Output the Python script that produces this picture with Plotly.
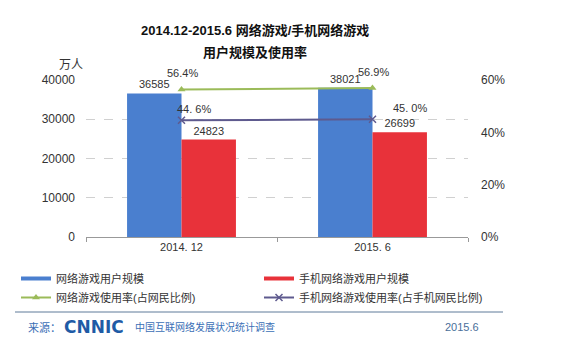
import plotly.graph_objects as go

categories = ["2014. 12", "2015. 6"]
pc_users = [36585, 38021]
mobile_users = [24823, 26699]
pc_rate = [0.564, 0.569]
mobile_rate = [0.446, 0.450]
pc_rate_labels = ["56.4%", "56.9%"]
mobile_rate_labels = ["44. 6%", "45. 0%"]
left_ticks = [0, 10000, 20000, 30000, 40000]
left_tick_labels = ["0", "10000", "20000", "30000", "40000"]
right_ticks = [0, 0.2, 0.4, 0.6]
right_tick_labels = ["0%", "20%", "40%", "60%"]

names = ["网络游戏用户规模", "手机网络游戏用户规模", "网络游戏使用率(占网民比例)", "手机网络游戏使用率(占手机网民比例)"]

FONT = "Liberation Sans, Noto Sans CJK SC, sans-serif"
BLUE = "#4a7fcf"
RED = "#e8323a"
GREEN = "#9bbb59"
PURPLE = "#5e5a8e"

fig = go.Figure()
fig.add_trace(go.Bar(x=categories, y=pc_users, marker_color=BLUE, marker_line_width=0,
                     text=[str(v) for v in pc_users], textposition="outside",
                     textfont=dict(size=11, color="#333"), cliponaxis=False, showlegend=False))
fig.add_trace(go.Bar(x=categories, y=mobile_users, marker_color=RED, marker_line_width=0,
                     text=[str(v) for v in mobile_users], textposition="outside",
                     textfont=dict(size=11, color="#333"), cliponaxis=False, showlegend=False))
fig.add_trace(go.Scatter(x=categories, y=pc_rate, yaxis="y2", mode="lines+markers",
                         line=dict(color=GREEN, width=2),
                         marker=dict(symbol="triangle-up", size=7, color=GREEN),
                         showlegend=False))
fig.add_trace(go.Scatter(x=categories, y=mobile_rate, yaxis="y2", mode="lines+markers",
                         line=dict(color=PURPLE, width=2),
                         marker=dict(symbol="x-thin", size=7, line=dict(color=PURPLE, width=1.5)),
                         showlegend=False))

# legend proxies (two native legends, one per column)
fig.add_trace(go.Scatter(x=[None], y=[None], mode="lines", line=dict(color=BLUE, width=4),
                         name=names[0], legend="legend"))
fig.add_trace(go.Scatter(x=[None], y=[None], mode="lines", line=dict(color=RED, width=4),
                         name=names[1], legend="legend2"))
fig.add_trace(go.Scatter(x=[None], y=[None], mode="lines+markers", line=dict(color=GREEN, width=2),
                         marker=dict(symbol="triangle-up", size=7, color=GREEN), name=names[2], legend="legend"))
fig.add_trace(go.Scatter(x=[None], y=[None], mode="lines+markers", line=dict(color=PURPLE, width=2),
                         marker=dict(symbol="x-thin", size=7, line=dict(color=PURPLE, width=1.5)),
                         name=names[3], legend="legend2"))

for c, v, t in zip(categories, pc_rate, pc_rate_labels):
    fig.add_annotation(x=c, y=v, yref="y2", text=t, showarrow=False, yshift=16, xshift=1,
                       font=dict(size=11, color="#333"))
for c, v, t in zip(categories, mobile_rate, mobile_rate_labels):
    fig.add_annotation(x=c, y=v, yref="y2", text=t, showarrow=False, yshift=11,
                       xshift=12 if c == categories[0] else 37, font=dict(size=11, color="#333"))

# title
fig.add_annotation(xref="paper", yref="paper", x=0.442, y=1.0, yshift=50, yanchor="middle",
                   text="<b>2014.12-2015.6 网络游戏/手机网络游戏</b>",
                   showarrow=False, font=dict(size=13, color="#111"))
fig.add_annotation(xref="paper", yref="paper", x=0.442, y=1.0, yshift=28, yanchor="middle",
                   text="<b>用户规模及使用率</b>",
                   showarrow=False, font=dict(size=13, color="#111"))
fig.add_annotation(xref="paper", yref="paper", x=0, y=1.0, xshift=-29, yshift=15, yanchor="middle",
                   text="万人", showarrow=False, font=dict(size=12, color="#333"))

# footer
fy = (237 - 327) / 157
fig.add_shape(type="line", xref="paper", yref="paper", x0=(15 - 86) / 382, x1=(503 - 86) / 382,
              y0=(237 - 312) / 157, y1=(237 - 312) / 157, line=dict(color="#5f7b99", width=1))
fig.add_annotation(xref="paper", yref="paper", x=(26 - 86) / 382, y=fy, xanchor="left", yanchor="middle",
                   text="来源：", showarrow=False, font=dict(size=11, color="#3b6fb6"))
fig.add_annotation(xref="paper", yref="paper", x=(62 - 86) / 382, y=fy, xanchor="left", yanchor="middle",
                   text="<b>CNNIC</b>", showarrow=False,
                   font=dict(size=17, color="#1f5ba6", family="DejaVu Sans"))
fig.add_annotation(xref="paper", yref="paper", x=(133 - 86) / 382, y=fy, xanchor="left", yanchor="middle",
                   text="中国互联网络发展状况统计调查", showarrow=False, font=dict(size=10, color="#3b6fb6"))
fig.add_annotation(xref="paper", yref="paper", x=(443 - 86) / 382, y=fy, xanchor="left", yanchor="middle",
                   text="2015.6", showarrow=False, font=dict(size=11, color="#4a6f9a"))

legend_common = dict(orientation="v", yanchor="top", xanchor="left", tracegroupgap=0,
                     font=dict(size=11, color="#333"), bgcolor="rgba(0,0,0,0)", borderwidth=0)

fig.update_layout(
    width=561, height=351,
    margin=dict(l=86, r=93, t=80, b=114),
    paper_bgcolor="white", plot_bgcolor="white",
    font=dict(family=FONT, size=12, color="#333"),
    barmode="group", bargap=0.43, bargroupgap=0,
    legend=dict(x=(16 - 86) / 382, y=(237 - 264) / 157, **legend_common),
    legend2=dict(x=(259 - 86) / 382, y=(237 - 264) / 157, **legend_common),
    xaxis=dict(showline=True, linecolor="#999", ticks="outside", tickson="boundaries", ticklen=4,
               tickcolor="#999", tickfont=dict(size=11, color="#333")),
    yaxis=dict(range=[0, 40000], tickvals=left_ticks, ticktext=left_tick_labels, showgrid=True,
               gridcolor="#d0d0d0", griddash="dash",
               zeroline=False, tickfont=dict(size=12, color="#333"), ticklabelstandoff=10),
    yaxis2=dict(range=[0, 0.6], tickvals=right_ticks, ticktext=right_tick_labels, overlaying="y", side="right",
                showgrid=False, zeroline=False, tickfont=dict(size=12, color="#333"), ticklabelstandoff=12),
)

fig.write_html("out.html")
